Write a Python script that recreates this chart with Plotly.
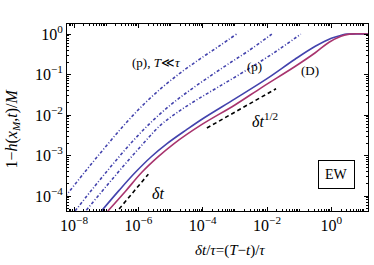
import plotly.graph_objects as go

# log10 coordinates
dd1_x = [-8.28, -7.68, -7.08, -6.48, -5.88, -5.28, -4.68, -4.08, -3.48, -2.95]
dd1_y = [-4.02, -3.42, -2.84, -2.28, -1.77, -1.33, -0.95, -0.61, -0.29, 0.0]
dd2_x = [-7.97, -7.37, -6.77, -6.17, -5.57, -4.97, -4.37, -3.77, -3.17, -2.57, -1.85]
dd2_y = [-4.37, -3.77, -3.19, -2.64, -2.15, -1.73, -1.37, -1.04, -0.72, -0.41, 0.0]
dd3_x = [-7.62, -7.0, -6.4, -5.8, -5.3, -4.8, -4.2, -3.5, -2.7, -1.8, -0.95]
dd3_y = [-4.35, -3.76, -3.2, -2.66, -2.24, -1.94, -1.63, -1.3, -0.92, -0.47, 0.0]
p_x = [-7.15, -6.6, -6.1, -5.6, -5.1, -4.5, -4.0, -3.0, -2.0, -1.13, -0.5, 0.0, 0.3, 0.5, 1.2]
p_y = [-4.37, -3.86, -3.42, -3.03, -2.70, -2.36, -2.09, -1.60, -1.10, -0.62, -0.30, -0.1, -0.03, 0.0, 0.0]
d_x = [-6.95, -6.4, -5.9, -5.4, -4.9, -4.06, -3.0, -2.17, -1.13, -0.5, -0.07, 0.3, 0.56, 1.2]
d_y = [-4.37, -3.88, -3.42, -3.04, -2.71, -2.25, -1.75, -1.32, -0.80, -0.46, -0.2, -0.05, 0.0, 0.0]
lin_x = [-6.6, -5.69]
lin_y = [-4.32, -3.46]
sq_x = [-3.87, -1.72]
sq_y = [-2.32, -1.35]

xtick_vals = [-8, -6, -4, -2, 0]
xtick_text = ["10<sup>−8</sup>", "10<sup>−6</sup>", "10<sup>−4</sup>", "10<sup>−2</sup>", "10<sup>0</sup>"]
ytick_vals = [-4, -3, -2, -1, 0]
ytick_text = ["10<sup>−4</sup>", "10<sup>−3</sup>", "10<sup>−2</sup>", "10<sup>−1</sup>", "10<sup>0</sup>"]

def p10(v):
    return [10 ** a for a in v]

BLUE = "#4343ad"
MAG = "#a8346e"
FONT = "Liberation Serif"

fig = go.Figure()
for xs, ys in [(dd1_x, dd1_y), (dd2_x, dd2_y), (dd3_x, dd3_y)]:
    fig.add_trace(go.Scatter(x=p10(xs), y=p10(ys), mode="lines",
                             line=dict(color=BLUE, width=1.6, dash="3px,2px,1px,2px", shape="spline")))
fig.add_trace(go.Scatter(x=p10(p_x), y=p10(p_y), mode="lines",
                         line=dict(color=BLUE, width=1.6, shape="spline")))
fig.add_trace(go.Scatter(x=p10(d_x), y=p10(d_y), mode="lines",
                         line=dict(color=MAG, width=1.6, shape="spline")))
for xs, ys in [(lin_x, lin_y), (sq_x, sq_y)]:
    fig.add_trace(go.Scatter(x=p10(xs), y=p10(ys), mode="lines",
                             line=dict(color="black", width=1.6, dash="4px,3px")))

axis_common = dict(type="log", showgrid=False, zeroline=False, showline=True, linecolor="black",
                   linewidth=1, mirror="ticks", ticks="inside", ticklen=4, tickcolor="black",
                   tickfont=dict(family=FONT, size=16, color="black"),
                   minor=dict(ticks="inside", ticklen=2, tickcolor="black", dtick="D1"))
fig.update_xaxes(range=[-8.22, 1.14], tickvals=p10(xtick_vals), ticktext=xtick_text, **axis_common)
fig.update_yaxes(range=[-4.37, 0.25], tickvals=p10(ytick_vals), ticktext=ytick_text, **axis_common)

ann = [
    dict(x=-5.45, y=-0.69, text="(p), <i>T</i>≪<i>τ</i>", size=13),
    dict(x=-2.40, y=-0.79, text="(p)", size=13),
    dict(x=-0.66, y=-0.91, text="(D)", size=13),
    dict(x=-2.05, y=-2.12, text="<i>δt</i><sup>1/2</sup>", size=16),
    dict(x=-5.39, y=-3.93, text="<i>δt</i>", size=16),
]
for a in ann:
    fig.add_annotation(x=a["x"], y=a["y"], xref="x", yref="y", text=a["text"], showarrow=False,
                       xanchor="center", yanchor="middle",
                       font=dict(family=FONT, size=a["size"], color="black"))
fig.add_annotation(x=0.15, y=-3.46, xref="x", yref="y", text="EW", showarrow=False,
                   xanchor="center", yanchor="middle",
                   font=dict(family=FONT, size=14, color="black"), bordercolor="black",
                   borderwidth=1, borderpad=6, bgcolor="white")
fig.add_annotation(x=-0.18, y=0.44, xref="paper", yref="paper", textangle=-90, showarrow=False,
                   xanchor="center", yanchor="middle",
                   text="1−<i>h</i>(<i>x</i><sub><i>M</i></sub>,<i>t</i>)/<i>M</i>",
                   font=dict(family=FONT, size=16, color="black"))
fig.add_annotation(x=0.54, y=-0.21, xref="paper", yref="paper", showarrow=False,
                   xanchor="center", yanchor="middle",
                   text="<i>δt</i>/<i>τ</i>=(<i>T</i>−<i>t</i>)/<i>τ</i>",
                   font=dict(family=FONT, size=15, color="black"))

fig.update_layout(width=374, height=265, margin=dict(l=67, r=6, t=24, b=54),
                  plot_bgcolor="white", paper_bgcolor="white", showlegend=False)
fig.write_html("out.html", config={"displayModeBar": False})

with open("out.html", encoding="utf-8") as f:
    html = f.read()
html = html.replace("<body>", '<body style="margin:0;padding:0;overflow:hidden">', 1)
with open("out.html", "w", encoding="utf-8") as f:
    f.write(html)
